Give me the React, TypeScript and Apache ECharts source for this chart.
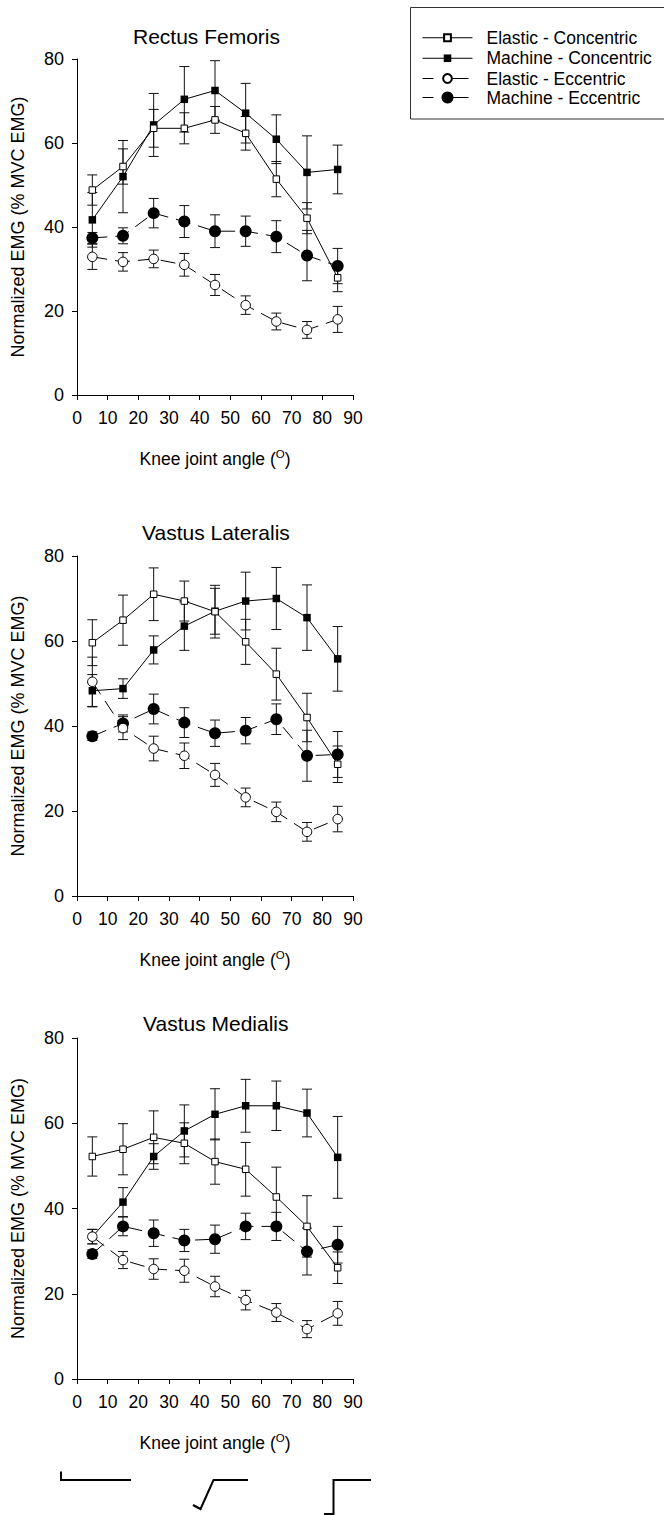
import React, { useEffect, useRef } from "react";
import * as echarts from "echarts";

const FONT = "'Liberation Sans', Arial, sans-serif";

const angles = [5, 15, 25, 35, 45, 55, 65, 75, 85];
const xTicks = [0, 10, 20, 30, 40, 50, 60, 70, 80, 90];
const yTicks = [0, 20, 40, 60, 80];

const seriesNames = [
  "Elastic - Concentric",
  "Machine - Concentric",
  "Elastic - Eccentric",
  "Machine - Eccentric",
];

const panelTitles = ["Rectus Femoris", "Vastus Lateralis", "Vastus Medialis"];

// Rectus Femoris
const rfElasticConc = [48.8, 54.4, 63.5, 63.5, 65.5, 62.3, 51.4, 42.1, 27.9];
const rfElasticConcSE = [3.6, 4.2, 4.5, 3.7, 3.2, 4.0, 4.2, 3.7, 3.3];
const rfMachineConc = [41.7, 52.0, 64.3, 70.4, 72.5, 67.1, 60.9, 53.0, 53.7];
const rfMachineConcSE = [6.5, 8.6, 7.5, 7.8, 7.1, 7.1, 5.8, 8.7, 5.8];
const rfElasticEcc = [32.9, 31.7, 32.4, 31.0, 26.2, 21.4, 17.5, 15.5, 18.0];
const rfElasticEccSE = [3.0, 2.2, 2.1, 2.7, 2.5, 2.2, 2.0, 2.0, 3.1];
const rfMachineEcc = [37.4, 37.9, 43.3, 41.3, 39.0, 39.0, 37.7, 33.2, 30.7];
const rfMachineEccSE = [1.3, 1.9, 3.5, 3.8, 3.9, 3.6, 3.8, 6.0, 4.2];

// Vastus Lateralis
const vlElasticConc = [59.6, 64.9, 71.0, 69.4, 66.9, 59.8, 52.2, 42.0, 31.0];
const vlElasticConcSE = [5.4, 5.9, 6.2, 4.7, 6.2, 5.3, 6.1, 5.7, 4.3];
const vlMachineConc = [48.3, 48.8, 57.9, 63.5, 67.0, 69.4, 70.0, 65.5, 55.8];
const vlMachineConcSE = [3.8, 2.3, 3.3, 5.7, 5.4, 6.8, 7.3, 7.7, 7.6];
const vlElasticEcc = [50.4, 39.5, 34.7, 33.0, 28.5, 23.2, 19.8, 15.1, 18.1];
const vlElasticEccSE = [5.8, 2.7, 2.9, 3.0, 2.7, 2.2, 2.3, 2.2, 3.0];
const vlMachineEcc = [37.6, 40.6, 44.0, 40.8, 38.3, 38.9, 41.6, 33.0, 33.3];
const vlMachineEccSE = [1.0, 2.0, 3.5, 3.5, 3.1, 3.1, 3.6, 6.0, 5.4];

// Vastus Medialis
const vmElasticConc = [52.2, 53.9, 56.7, 55.3, 51.0, 49.2, 42.7, 35.8, 26.1];
const vmElasticConcSE = [4.6, 6.0, 6.2, 4.8, 5.3, 6.3, 7.0, 7.2, 3.7];
const vmMachineConc = [33.4, 41.5, 52.2, 58.2, 62.1, 64.1, 64.1, 62.4, 52.0];
const vmMachineConcSE = [1.7, 3.4, 3.0, 6.1, 6.0, 6.2, 5.8, 5.6, 9.6];
const vmElasticEcc = [33.4, 27.9, 25.8, 25.4, 21.7, 18.5, 15.6, 11.7, 15.4];
const vmElasticEccSE = [1.7, 2.0, 2.4, 2.7, 2.4, 2.3, 2.1, 2.0, 2.8];
const vmMachineEcc = [29.3, 35.8, 34.2, 32.5, 32.8, 35.8, 35.8, 29.9, 31.5];
const vmMachineEccSE = [1.0, 2.2, 3.1, 2.6, 3.3, 3.1, 3.3, 5.5, 4.3];

const panelData = [
  [
    [rfElasticConc, rfElasticConcSE],
    [rfMachineConc, rfMachineConcSE],
    [rfElasticEcc, rfElasticEccSE],
    [rfMachineEcc, rfMachineEccSE],
  ],
  [
    [vlElasticConc, vlElasticConcSE],
    [vlMachineConc, vlMachineConcSE],
    [vlElasticEcc, vlElasticEccSE],
    [vlMachineEcc, vlMachineEccSE],
  ],
  [
    [vmElasticConc, vmElasticConcSE],
    [vmMachineConc, vmMachineConcSE],
    [vmElasticEcc, vmElasticEccSE],
    [vmMachineEcc, vmMachineEccSE],
  ],
];

// layout (pixels)
const gridTops = [59, 556, 1038];
const gridHeights = [336, 340, 341];
const titleLefts = [133, 142, 143];
const titleTops = [26, 522, 1013];

const styles = [
  { symbol: "rect", size: 6.5, fill: "#fff", border: 1, dash: "solid" as any, legendH: 8.5, legendDash: "solid" as any },
  { symbol: "rect", size: 7.5, fill: "#000", border: 0, dash: "solid" as any, legendH: 9.5, legendDash: "solid" as any },
  { symbol: "circle", size: 9.5, fill: "#fff", border: 1, dash: [15, 8] as any, legendH: 11, legendDash: [11, 17, 18, 60] as any },
  { symbol: "circle", size: 12, fill: "#000", border: 0, dash: [15, 8] as any, legendH: 15, legendDash: [11, 17, 18, 60] as any },
];
const drawOrder = [1, 0, 3, 2];
const legendRows = [33, 54, 75, 96];

export default function App() {
  const ref = useRef<HTMLDivElement>(null);
  useEffect(() => {
    document.body.style.margin = "0";
    if (!ref.current) return;
    const chart = echarts.init(ref.current, undefined, { renderer: "svg" });

    const grid: any[] = [];
    const xAxis: any[] = [];
    const yAxis: any[] = [];
    const title: any[] = [];
    const series: any[] = [];

    for (let p = 0; p < 3; p++) {
      grid.push({ left: 77, width: 276, top: gridTops[p], height: gridHeights[p] });
      title.push({
        text: panelTitles[p],
        left: titleLefts[p],
        top: titleTops[p],
        padding: 0,
        textStyle: { fontSize: 21, fontWeight: "normal", color: "#000", fontFamily: FONT },
      });
      xAxis.push({
        gridIndex: p,
        type: "value",
        min: xTicks[0],
        max: xTicks[xTicks.length - 1],
        interval: 10,
        axisLine: { show: true, onZero: false, lineStyle: { color: "#000", width: 1 } },
        axisTick: { show: true, length: 5, lineStyle: { color: "#000" } },
        axisLabel: { fontSize: 17.5, color: "#000", margin: 14, fontFamily: FONT },
        splitLine: { show: false },
        name: "{a|Knee joint angle (}{s|O}{a|)}",
        nameLocation: "middle",
        nameGap: 53,
        nameTextStyle: {
          color: "#000",
          fontSize: 17.5,
          fontFamily: FONT,
          rich: {
            a: { fontSize: 17.5, fontFamily: FONT, color: "#000", lineHeight: 22 },
            s: { fontSize: 11.5, fontFamily: FONT, color: "#000", lineHeight: 12, verticalAlign: "top" },
          },
        },
      });
      yAxis.push({
        gridIndex: p,
        type: "value",
        min: yTicks[0],
        max: yTicks[yTicks.length - 1],
        interval: 20,
        axisLine: { show: true, onZero: false, lineStyle: { color: "#000", width: 1 } },
        axisTick: { show: true, length: 5, lineStyle: { color: "#000" } },
        axisLabel: { fontSize: 18, color: "#000", margin: 13, fontFamily: FONT },
        splitLine: { show: false },
        name: "Normalized EMG (% MVC EMG)",
        nameLocation: "middle",
        nameRotate: 90,
        nameGap: 50,
        nameTextStyle: { color: "#000", fontSize: 18, fontFamily: FONT },
      });

      // error bars
      for (const s of drawOrder) {
        const [vals, se] = panelData[p][s];
        series.push({
          type: "custom",
          xAxisIndex: p,
          yAxisIndex: p,
          z: 1,
          silent: true,
          encode: { x: 0, y: [1, 2] },
          data: angles.map((a, i) => [a, vals[i] - se[i], vals[i] + se[i]]),
          renderItem: (params: any, api: any) => {
            const x = api.value(0);
            const top = api.coord([x, api.value(2)]);
            const bot = api.coord([x, api.value(1)]);
            const hw = 5;
            const st = { stroke: "#111", lineWidth: 1 };
            return {
              type: "group",
              children: [
                { type: "line", shape: { x1: top[0], y1: top[1], x2: bot[0], y2: bot[1] }, style: st },
                { type: "line", shape: { x1: top[0] - hw, y1: top[1], x2: top[0] + hw, y2: top[1] }, style: st },
                { type: "line", shape: { x1: bot[0] - hw, y1: bot[1], x2: bot[0] + hw, y2: bot[1] }, style: st },
              ],
            };
          },
        });
      }
      // lines + markers
      for (const s of drawOrder) {
        const [vals] = panelData[p][s];
        const st = styles[s];
        series.push({
          type: "line",
          name: seriesNames[s],
          xAxisIndex: p,
          yAxisIndex: p,
          z: 3,
          data: angles.map((a, i) => [a, vals[i]]),
          symbol: st.symbol,
          symbolSize: st.size,
          showAllSymbol: true,
          lineStyle: { color: "#000", width: 1, type: st.dash },
          itemStyle: { color: st.fill, borderColor: "#000", borderWidth: st.border },
          emphasis: { disabled: true },
        });
      }
    }

    const legend = seriesNames.map((name, s) => ({
      data: [name],
      left: 422,
      top: legendRows[s] - styles[s].legendH / 2,
      padding: 0,
      itemGap: 0,
      itemWidth: 50,
      itemHeight: styles[s].legendH,
      selectedMode: false,
      lineStyle: { type: styles[s].legendDash, width: 1, color: "#000" },
      textStyle: { fontSize: 17.5, color: "#000", fontFamily: FONT, padding: [0, 0, 0, 9] },
    }));

    const lineSt = { stroke: "#000", lineWidth: 2, fill: null };
    const graphic: any[] = [
      {
        type: "rect",
        shape: { x: 410.5, y: 7.5, width: 270, height: 111.5 },
        style: { stroke: "#333", lineWidth: 1, fill: "none" },
      },
      { type: "polyline", shape: { points: [[61, 1471.5], [61, 1480], [131, 1480]] }, style: lineSt },
      { type: "polyline", shape: { points: [[193, 1505], [200.5, 1509], [213.5, 1480], [248, 1480]] }, style: lineSt },
      { type: "polyline", shape: { points: [[324, 1514], [333.5, 1514], [333.5, 1480], [371, 1480]] }, style: lineSt },
    ];

    chart.setOption({
      animation: false,
      backgroundColor: "#fff",
      textStyle: { fontFamily: FONT },
      title,
      grid,
      xAxis,
      yAxis,
      legend,
      series,
      graphic,
    });
    return () => chart.dispose();
  }, []);
  return <div ref={ref} style={{ width: 664, height: 1515 }} />;
}
